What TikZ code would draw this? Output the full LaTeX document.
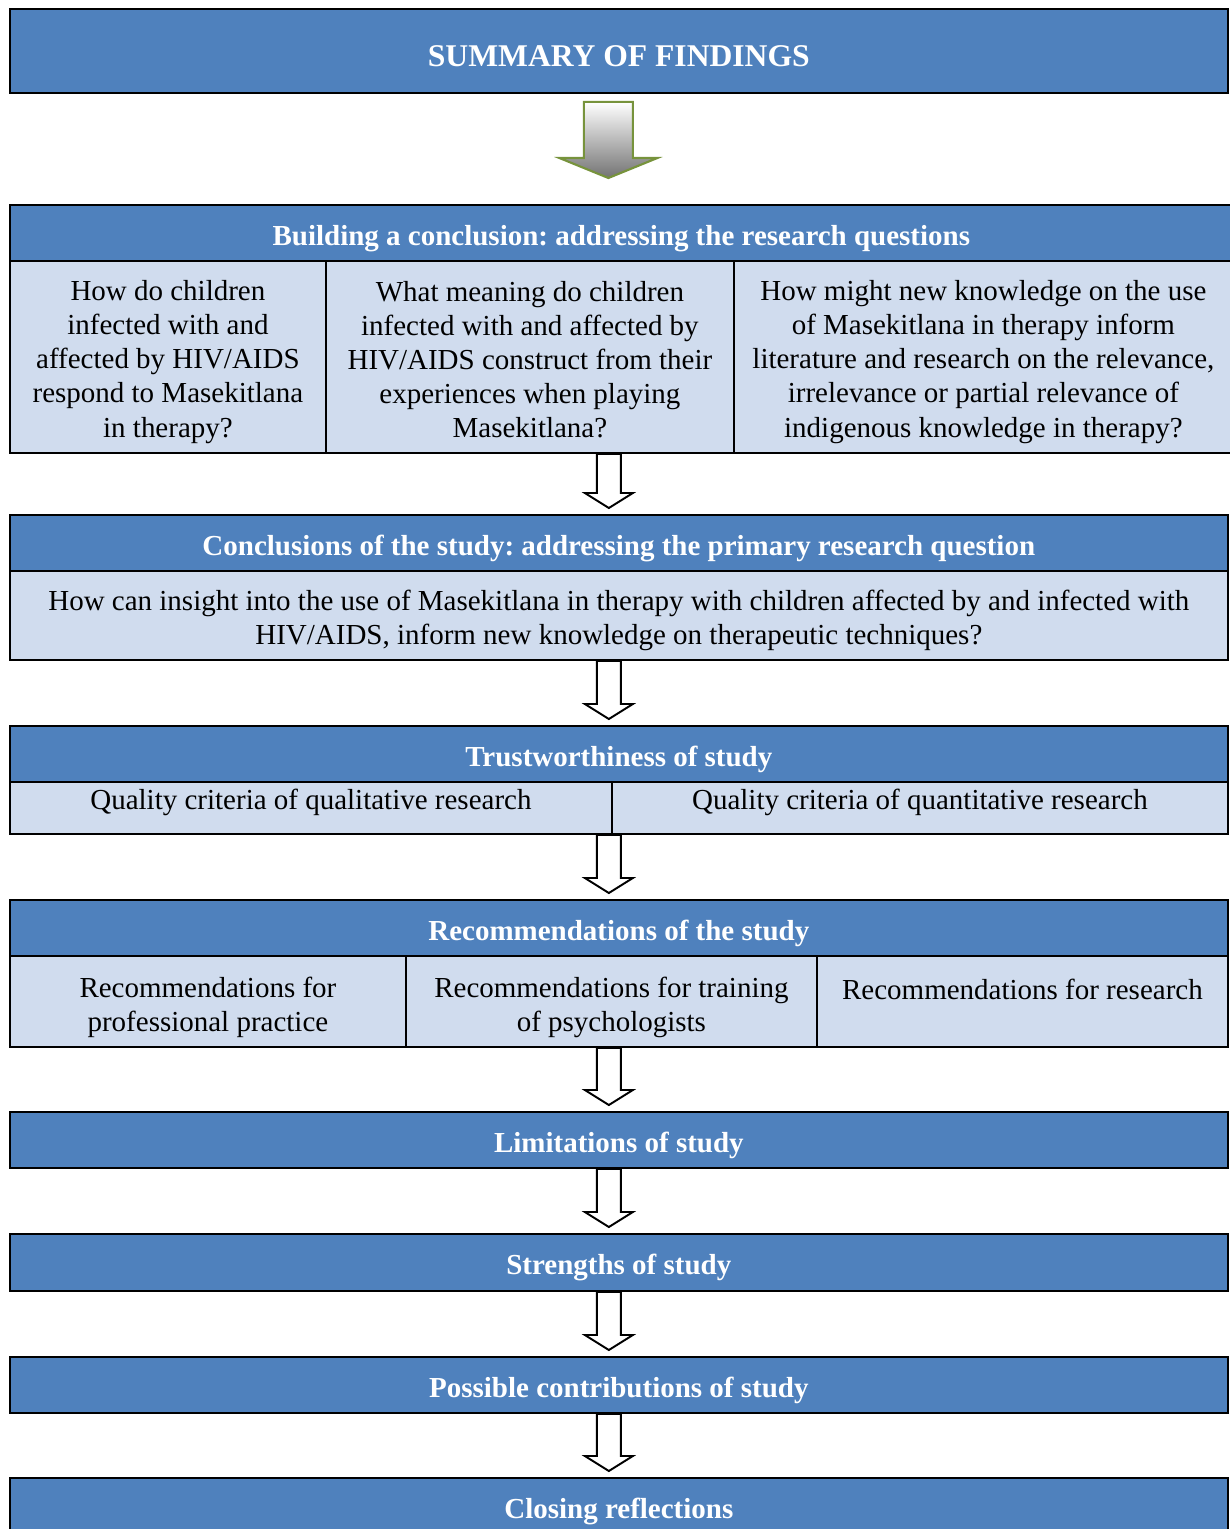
\documentclass[tikz,border=0pt]{standalone}
\usepackage{fontspec}
\setmainfont{Liberation Serif}
\usetikzlibrary{positioning,calc}
\frenchspacing

\definecolor{hdrblue}{HTML}{4F81BD}
\definecolor{cellblue}{HTML}{D0DCEE}
\definecolor{arrgreen}{HTML}{77933C}

\newcommand{\bodysize}{\fontsize{16.5}{19.4}\selectfont}
% hollow block arrow between two boxes, on the fixed column x = 609px
\newcommand{\openarrow}[2]{%
  \draw[openarr] let \p1=(#1.south), \p2=(#2.north) in
    (11.94cm,\y1) -- (12.42cm,\y1) -- (12.42cm,\y2+0.42cm)
    -- (12.66cm,\y2+0.42cm) -- (12.18cm,\y2+0.12cm) -- (11.70cm,\y2+0.42cm)
    -- (11.94cm,\y2+0.42cm) -- cycle;}

\begin{document}
\begin{tikzpicture}[
  x=0.02cm, y=-0.02cm,
  font=\bodysize,
  hdrbox/.style={draw=black, line width=1.1pt, fill=hdrblue, text=white, font=\bodysize\bfseries,
    minimum height=1.12cm, inner sep=0pt, anchor=north west, text height=0.62cm, text depth=0.12cm},
  cellbox/.style={draw=black, line width=1.1pt, fill=cellblue, align=center, inner sep=0pt, anchor=north west},
  celltext/.style={align=center, inner sep=0pt},
  openarr/.style={draw=black, line width=1.1pt, fill=white, line join=miter},
  shadearr/.style={draw=arrgreen, line width=1.2pt, top color=white, bottom color=black!55}
]
  \useasboundingbox (0,0) rectangle (1230,1529);

  \node[hdrbox, minimum width=24.36cm, minimum height=1.68cm, text height=0.62cm, text depth=0cm,
    font=\fontsize{18}{21}\selectfont\bfseries] (summary) at (9,8) {SUMMARY OF FINDINGS};

  % research questions
  \node[hdrbox, minimum width=24.46cm] (buildhdr) at (9,204) {Building a conclusion: addressing the research questions};
  \node[cellbox, minimum width=6.32cm, minimum height=3.84cm] (rq1) at (9,260) {};
  \node[cellbox, minimum width=8.16cm, minimum height=3.84cm] (rq2) at (325,260) {};
  \node[cellbox, minimum width=9.98cm, minimum height=3.84cm] (rq3) at (733,260) {};
  \node[celltext] (rq1txt) at ($(rq1.center)+(0,5)$)
    {How do children\\infected with and\\affected by HIV/AIDS\\respond to Masekitlana\\in therapy?};
  \node[celltext] (rq2txt) at ($(rq2.center)+(0,3)$)
    {What meaning do children\\infected with and affected by\\HIV/AIDS construct from their\\experiences when playing\\Masekitlana?};
  \node[celltext] (rq3txt) at ($(rq3.center)+(0,5)$)
    {How might new knowledge on the use\\of Masekitlana in therapy inform\\literature and research on the relevance,\\irrelevance or partial relevance of\\indigenous knowledge in therapy?};

  % gradient arrow under the title
  \draw[shadearr] let \p1=(summary.south), \p2=(buildhdr.north) in
    (11.68cm,\y1-0.16cm) -- (12.66cm,\y1-0.16cm) -- (12.66cm,\y2+0.92cm)
    -- (13.15cm,\y2+0.92cm) -- (12.17cm,\y2+0.52cm) -- (11.19cm,\y2+0.92cm)
    -- (11.68cm,\y2+0.92cm) -- cycle;

  % primary question
  \node[hdrbox, minimum width=24.36cm] (conclhdr) at (9,514) {Conclusions of the study: addressing the primary research question};
  \node[cellbox, minimum width=24.36cm, minimum height=1.78cm] (primq) at (9,570) {};
  \node[celltext] (primqtxt) at ($(primq.center)+(0,5)$)
    {How can insight into the use of Masekitlana in therapy with children affected by and infected with\\HIV/AIDS, inform new knowledge on therapeutic techniques?};
  \openarrow{rq2}{conclhdr}

  % trustworthiness
  \node[hdrbox, minimum width=24.36cm] (trusthdr) at (9,725) {Trustworthiness of study};
  \node[cellbox, minimum width=12.04cm, minimum height=1.04cm, text height=0.43cm, text depth=0.37cm]
    (qualcrit) at (9,781) {Quality criteria of qualitative research};
  \node[cellbox, minimum width=12.32cm, minimum height=1.04cm, text height=0.43cm, text depth=0.37cm]
    (quantcrit) at (611,781) {Quality criteria of quantitative research};
  \openarrow{primq}{trusthdr}

  % recommendations
  \node[hdrbox, minimum width=24.36cm] (recohdr) at (9,899) {Recommendations of the study};
  \node[cellbox, minimum width=7.92cm, minimum height=1.82cm] (recprac) at (9,955) {};
  \node[cellbox, minimum width=8.22cm, minimum height=1.82cm] (rectrain) at (405,955) {};
  \node[cellbox, minimum width=8.22cm, minimum height=1.82cm] (recres) at (816,955) {};
  \node[celltext] (recpractxt) at ($(recprac.center)+(0,6)$) {Recommendations for\\professional practice};
  \node[celltext] (rectraintxt) at ($(rectrain.center)+(0,6)$) {Recommendations for training\\of psychologists};
  \node[celltext] (recrestxt) at ($(recres.center)+(0,5)$) {Recommendations for research\\\mbox{}};
  \openarrow{qualcrit}{recohdr}

  % remaining steps
  \node[hdrbox, minimum width=24.36cm] (limhdr) at (9,1111) {Limitations of study};
  \openarrow{rectrain}{limhdr}
  \node[hdrbox, minimum width=24.36cm, minimum height=1.14cm] (strhdr) at (9,1233) {Strengths of study};
  \openarrow{limhdr}{strhdr}
  \node[hdrbox, minimum width=24.36cm] (contrhdr) at (9,1356) {Possible contributions of study};
  \openarrow{strhdr}{contrhdr}
  \node[hdrbox, minimum width=24.36cm] (closehdr) at (9,1477) {Closing reflections};
  \openarrow{contrhdr}{closehdr}
\end{tikzpicture}
\end{document}
